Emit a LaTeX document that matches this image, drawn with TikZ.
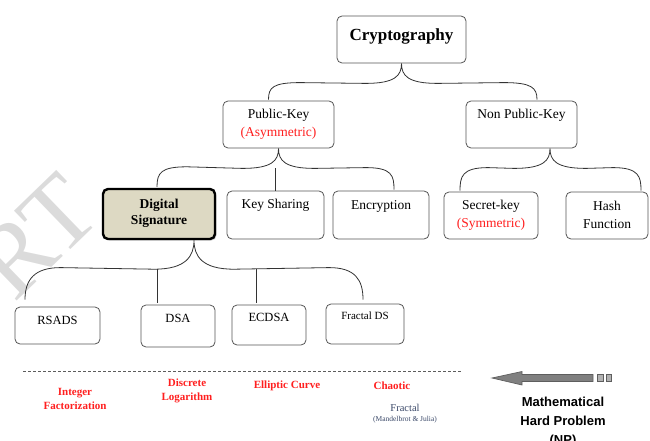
\documentclass[tikz,border=0pt]{standalone}
\usepackage{fontspec}
\setmainfont{Liberation Serif}
\newfontfamily\arialfont{Liberation Sans}
\usetikzlibrary{calc,shadows}
\definecolor{boxgray}{HTML}{555555}
\definecolor{linegray}{HTML}{333333}
\definecolor{redtext}{HTML}{FF1F1F}
\definecolor{beige}{HTML}{DDD9C3}
\definecolor{slate}{HTML}{3A4868}
\definecolor{arrowfill}{HTML}{808080}
\definecolor{arrowline}{HTML}{5E5E5E}
\begin{document}
\begin{tikzpicture}[x=1pt,y=-1pt,
  box/.style={draw=boxgray, line width=0.8pt, rounded corners=5pt, inner sep=0pt, fill=white},
  conn/.style={draw=linegray, line width=0.8pt},
  lbl/.style={font=\fontsize{13.5}{18}\selectfont, align=center, inner sep=0pt},
  small/.style={font=\fontsize{12.5}{15}\selectfont, align=center, inner sep=0pt},
  hard/.style={font=\fontsize{11}{14}\selectfont\bfseries, text=redtext, align=center, inner sep=0pt}]
\useasboundingbox (0,0) rectangle (650,441);
\clip (0,0) rectangle (650,441);
% watermark
\node[text=black!14, rotate=44, font=\fontsize{102}{102}\selectfont, inner sep=0pt] (wm) at (36,236) {RT};
% boxes
\node[box, minimum width=129, minimum height=47] (crypt) at (401.5,39.5) {};
\node[box, minimum width=111, minimum height=47] (pk) at (278.5,124.5) {};
\node[box, minimum width=111, minimum height=47] (npk) at (521.5,124.5) {};
\node[box, draw=black, line width=2.4pt, fill=beige, minimum width=112, minimum height=50,
      drop shadow={shadow xshift=1.5pt, shadow yshift=-1.5pt, fill=black!35}] (ds) at (159,214) {};
\node[box, minimum width=97, minimum height=48] (ks) at (275.5,215) {};
\node[box, minimum width=96, minimum height=48] (enc) at (381,215) {};
\node[box, minimum width=94, minimum height=47] (sk) at (491,215.5) {};
\node[box, minimum width=82, minimum height=47] (hf) at (607,215.5) {};
\node[box, minimum width=85, minimum height=37] (rsads) at (57.5,325.5) {};
\node[box, minimum width=74, minimum height=42] (dsa) at (178,326) {};
\node[box, minimum width=74, minimum height=40] (ecdsa) at (269,325) {};
\node[box, minimum width=78, minimum height=40] (fds) at (365,324) {};
% box texts
\node[lbl, font=\fontsize{17}{18}\selectfont\bfseries] (cryptt) at (401.5,36) {Cryptography};
\node[lbl] (pkt) at (278.5,124) {Public-Key\\\textcolor{redtext}{(Asymmetric)}};
\node[lbl] (npkt) at (521.5,115) {Non Public-Key};
\node[lbl, font=\fontsize{13.5}{16}\selectfont\bfseries] (dst) at (159,213) {Digital\\Signature};
\node[lbl] (kst) at (275.5,205) {Key Sharing};
\node[lbl] (enct) at (381,206) {Encryption};
\node[lbl] (skt) at (491,215) {Secret-key\\\textcolor{redtext}{(Symmetric)}};
\node[lbl] (hft) at (607,215) {Hash\\Function};
\node[small] (rsadst) at (57.5,320) {RSADS};
\node[small] (dsat) at (178,318) {DSA};
\node[small] (ecdsat) at (269,317) {ECDSA};
\node[small, font=\fontsize{11}{14}\selectfont] (fdst) at (365,316) {Fractal DS};
% connectors
\draw[conn] ($(pk.north)+(-10,-1)$) .. controls +(0,-12) and +(-28,0) .. ($(pk.north)+(22,-18)$)
  -- ($(crypt.south)+(-36,20)$) .. controls +(30,0) and +(0,12) .. (crypt.south)
  .. controls +(0,12) and +(-30,0) .. ($(crypt.south)+(36,20)$)
  -- ($(npk.north)+(-18,-18)$) .. controls +(28,0) and +(0,-12) .. ($(npk.north)+(15.5,-1)$);
\coordinate (h2) at ($(pk.south)+(0,20)$);
\draw[conn] ($(ds.north)+(-2,-1)$) .. controls +(0,-14) and +(-26,0) .. ($(ds.north)+(28,-21)$)
  -- ($(pk.south)+(-36,20)$) .. controls +(30,0) and +(0,12) .. (pk.south)
  .. controls +(0,12) and +(-30,0) .. ($(pk.south)+(36,20)$)
  -- ($(enc.north)+(-15,-23)$) .. controls +(26,0) and +(0,-14) .. ($(enc.north)+(13,-1)$);
\draw[conn] (h2 -| ks.north) -- (ks.north);
\coordinate (np) at ($(npk.south)+(28.5,0)$);
\draw[conn] ($(sk.north)+(-31,-1)$) .. controls +(0,-14) and +(-26,0) .. ($(sk.north)+(-3,-24)$)
  -- ($(np)+(-36,20)$) .. controls +(30,0) and +(0,12) .. (np)
  .. controls +(0,12) and +(-30,0) .. ($(np)+(36,20)$)
  -- ($(hf.north)+(6,-24)$) .. controls +(26,0) and +(0,-14) .. ($(hf.north)+(34,-1)$);
\coordinate (dp) at ($(ds.south)+(35,0)$);
\coordinate (h4) at ($(dp)+(0,29)$);
\draw[conn] ($(rsads.north)+(-32.5,-7)$) .. controls +(0,-20) and +(-26,0) .. ($(rsads.north)+(3,-39)$)
  -- ($(dp)+(-40,29)$) .. controls +(32,0) and +(0,16) .. (dp)
  .. controls +(0,16) and +(-32,0) .. ($(dp)+(40,29)$)
  -- ($(fds.north)+(-36,-36)$) .. controls +(26,0) and +(0,-20) .. ($(fds.north)+(-2,-4)$);
\draw[conn] (h4 -| {$(dsa.north)+(-21,0)$}) -- ($(dsa.north)+(-21,-2)$);
\draw[conn] (h4 -| {$(ecdsa.north)+(-13,0)$}) -- ($(ecdsa.north)+(-13,-2)$);
% dashed separator
\coordinate (dl) at (23,371);
\coordinate (dr) at (462,371);
\draw[linegray!80, line width=0.8pt, dash pattern=on 3pt off 2pt] (dl) -- (dr);
% hard problems
\node[hard] (intf) at (75,399) {Integer\\Factorization};
\node[hard] (dlog) at (187,391) {Discrete\\Logarithm};
\node[hard] (ecurve) at (287,386) {Elliptic Curve};
\node[hard] (chaotic) at (392,386) {Chaotic};
\node[inner sep=0pt, text=slate, font=\fontsize{10.5}{12}\selectfont] (fract) at (405,408) {Fractal};
\node[inner sep=0pt, text=slate, font=\fontsize{7.5}{8}\selectfont] (mj) at (405,420) {(Mandelbrot \& Julia)};
% arrow
\draw[fill=arrowfill, draw=arrowline, line width=0.7pt]
  (492,378) -- (522,371.5) -- (522,374.5) -- (593,374.5) -- (593,381.5) -- (522,381.5) -- (522,385) -- cycle;
\draw[fill=black!30, draw=arrowline, line width=0.7pt] (597,374.5) rectangle (603.5,381.5);
\draw[fill=black!30, draw=arrowline, line width=0.7pt] (606,374.5) rectangle (611.5,381.5);
\node[inner sep=0pt, align=center, font=\arialfont\bfseries\fontsize{13}{19}\selectfont] (mhp) at (563,422) {Mathematical\\Hard Problem\\(NP)};
\end{tikzpicture}
\end{document}
